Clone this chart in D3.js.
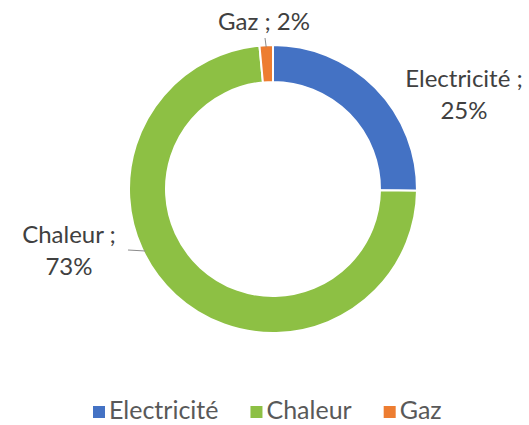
<!DOCTYPE html>
<html><head><meta charset="utf-8">
<script src="https://cdn.jsdelivr.net/npm/d3@7"></script>
<style>html,body{margin:0;padding:0;background:#fff;}</style>
</head><body>
<svg id="chart" width="529" height="425"></svg>
<script>
const categories = ["Electricité", "Chaleur", "Gaz"];
const values = [25.2, 73.3, 1.5];
const colors = ["#4472C4", "#8DC044", "#ED7D31"];

const svg = d3.select("#chart");
const cx = 273, cy = 189, rOut = 144, rIn = 107;
const font = "Lato, 'Open Sans', sans-serif";
const textColor = "#404040";

const data = categories.map((c, i) => ({ cat: c, value: values[i], color: colors[i] }));
const pie = d3.pie().sort(null).value(d => d.value);
const arcs = pie(data);
const arc = d3.arc().innerRadius(rIn).outerRadius(rOut);

const g = svg.append("g").attr("transform", `translate(${cx},${cy})`);
g.selectAll("path").data(arcs).join("path")
  .attr("d", arc)
  .attr("fill", d => d.data.color)
  .attr("stroke", "#fff")
  .attr("stroke-width", 2);

const pct = v => Math.round(v) + "%";

const labelPos = {
  "Electricité": { x: 464, y: 87, lines: 2 },
  "Chaleur": { x: 69, y: 243, lines: 2 },
  "Gaz": { x: 264, y: 30, lines: 1 }
};

arcs.forEach(a => {
  const p = labelPos[a.data.cat];
  const t = svg.append("text")
    .attr("x", p.x).attr("y", p.y)
    .attr("text-anchor", "middle")
    .attr("font-family", font)
    .attr("font-size", 24)
    .attr("fill", textColor);
  if (p.lines === 2) {
    t.append("tspan").attr("x", p.x).attr("dy", 0).text(a.data.cat + " ;");
    t.append("tspan").attr("x", p.x).attr("dy", 32).text(pct(a.data.value));
  } else {
    t.text(a.data.cat + " ; " + pct(a.data.value));
  }
});

// Chaleur leader: horizontal to ring
{
  const y = 250;
  const px = cx - Math.sqrt(rOut * rOut - (y - cy) * (y - cy));
  svg.append("line").attr("x1", 128).attr("y1", y).attr("x2", px + 3).attr("y2", y + 1)
    .attr("stroke", "#8c8c8c").attr("stroke-width", 1.2);
}
// Gaz leader
{
  const a = arcs[2];
  const mid = (a.startAngle + a.endAngle) / 2;
  const px = cx + rOut * Math.sin(mid), py = cy - rOut * Math.cos(mid);
  svg.append("line").attr("x1", 265).attr("y1", 38).attr("x2", px).attr("y2", py + 2)
    .attr("stroke", "#8c8c8c").attr("stroke-width", 1);
}

// legend
const lg = svg.append("g").attr("font-family", font).attr("font-size", 25).attr("fill", "#595959");
const tmp = data.map(d => lg.append("text").text(d.cat));
const widths = tmp.map(t => t.node().getComputedTextLength());
tmp.forEach(t => t.remove());
const sw = 12, gap1 = 4, gap2 = 32;
let x = 93;
data.forEach((d, i) => {
  lg.append("rect").attr("x", x).attr("y", 406).attr("width", sw).attr("height", sw).attr("fill", d.color);
  lg.append("text").attr("x", x + sw + gap1).attr("y", 419).text(d.cat);
  x += sw + gap1 + widths[i] + gap2;
});
</script>
</body></html>
